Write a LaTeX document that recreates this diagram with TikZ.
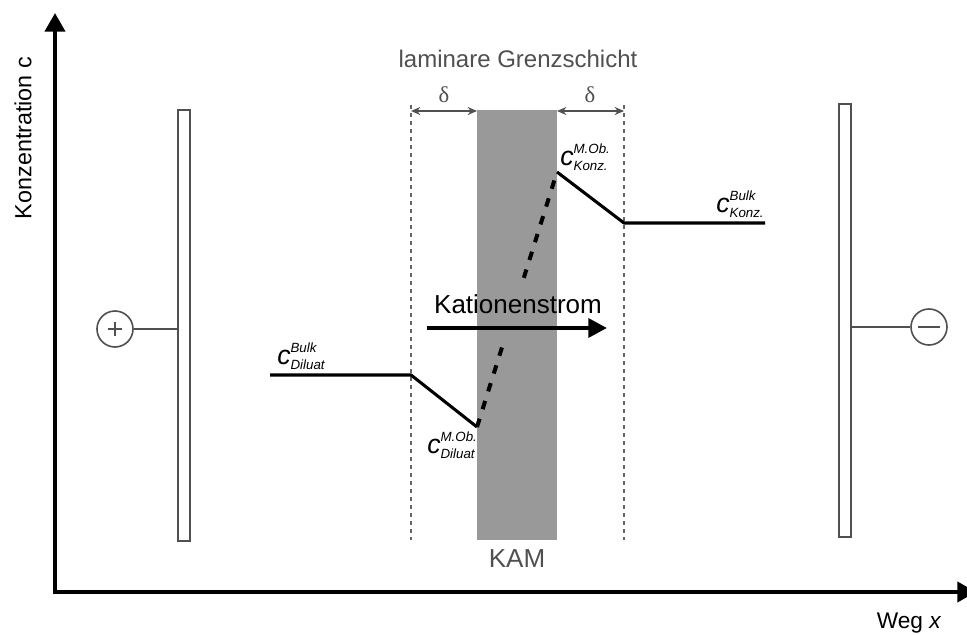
\documentclass[tikz,border=0pt]{standalone}
\usepackage{fontspec}
\setmainfont{Liberation Sans}
\newfontfamily\serifgreek{Liberation Serif}
\usetikzlibrary{arrows.meta,calc}
\definecolor{membrane}{HTML}{999999}
\definecolor{darkline}{HTML}{505050}
\definecolor{guide}{HTML}{666666}
% concentration symbol with stacked super- and subscript
\newcommand{\conc}[2]{\itshape{\fontsize{20}{20}\selectfont c}%
  \rlap{\raisebox{8.6pt}{\fontsize{10}{10}\selectfont #1}}%
  \raisebox{-3.75pt}{\fontsize{10}{10}\selectfont #2}}
\tikzset{
  axis/.style={line width=3pt, -{Triangle[length=14pt,width=15pt]}},
  electrode/.style={draw=darkline, line width=1.5pt, fill=white},
  pole/.style={circle, draw=darkline, line width=1.2pt, minimum size=27pt, inner sep=0pt},
  wire/.style={draw=darkline, line width=1.2pt},
  guideline/.style={draw=guide, line width=1.5pt, dash pattern=on 3pt off 3pt},
  gap/.style={draw=darkline, line width=1.5pt, {Stealth[length=7pt,width=6pt]}-{Stealth[length=7pt,width=6pt]}},
  profile/.style={line width=2.3pt, line join=round},
  profiledash/.style={line width=3pt, dash pattern=on 6.5pt off 7.5pt},
  flow/.style={line width=3.2pt, -{Triangle[length=14pt,width=14pt]}},
  lbl/.style={inner sep=0pt, anchor=base},
  clbl/.style={inner sep=0pt, anchor=base west},
}
\begin{document}
\begin{tikzpicture}[x=0.75pt, y=-0.75pt]
\useasboundingbox (0,0) rectangle (967,635);

% axes
\coordinate (origin) at (55,592);
\coordinate (ytip) at (55,13);
\coordinate (xtip) at (976,592);
\draw[axis] (55,594) -- (ytip);
\draw[axis] (53,592) -- (xtip);
\node[rotate=90, inner sep=0pt, font=\fontsize{17.5}{17.5}\selectfont] (ylabel) at (23,138) {Konzentration c};
\node[lbl, font=\fontsize{17}{17}\selectfont] (xlabel) at (909,628) {Weg \textit{x}};

% membrane and boundary layers
\fill[membrane] (477,110) rectangle (557,540);
\node[lbl, text=darkline, font=\fontsize{19.5}{19.5}\selectfont] (kam) at (517,567) {KAM};
\coordinate (dlt) at (411,105);
\coordinate (dlb) at (411,540);
\coordinate (drt) at (624,105);
\coordinate (drb) at (624,540);
\draw[guideline] (dlt) -- (dlb);
\draw[guideline] (drt) -- (drb);
\coordinate (gl) at (411,111);
\coordinate (ml) at (477,111);
\coordinate (mr) at (557,111);
\coordinate (gr) at (624,111);
\draw[gap] (gl) -- (ml);
\draw[gap] (mr) -- (gr);
\node[lbl, text=darkline, font=\serifgreek\fontsize{17}{17}\selectfont] (deltaL) at (444,103) {δ};
\node[lbl, text=darkline, font=\serifgreek\fontsize{17}{17}\selectfont] (deltaR) at (590,103) {δ};
\node[lbl, text=darkline, font=\fontsize{18}{18}\selectfont] (layer) at (518,68) {laminare Grenzschicht};

% electrodes
\draw[electrode] (178,110) rectangle (190,541);
\draw[electrode] (839,104) rectangle (851,537);
\node[pole] (anode) at (115,329) {};
\node[pole] (cathode) at (929,327) {};
\draw[darkline, line width=1.2pt] ($(anode)+(-7,0)$) -- ($(anode)+(7,0)$);
\draw[darkline, line width=1.2pt] ($(anode)+(0,-7)$) -- ($(anode)+(0,7)$);
\draw[darkline, line width=1.2pt] ($(cathode)+(-11,0)$) -- ($(cathode)+(11,0)$);
\coordinate (anodeplate) at (178,329);
\coordinate (cathodeplate) at (851,327);
\draw[wire] (anode) -- (anodeplate);
\draw[wire] (cathodeplate) -- (cathode);

% concentration profile
\coordinate (d0) at (270,375);
\coordinate (d1) at (411,375);
\coordinate (d2) at (477,427);
\coordinate (k2) at (557,172);
\coordinate (k1) at (624,223);
\coordinate (k0) at (765,223);
\draw[profile] (d0) -- (d1) -- (d2);
% inside the membrane: dashed, interrupted where the flux label sits
\coordinate (mlow) at ($(d2)!0.33!(k2)$);
\coordinate (mhigh) at ($(d2)!0.585!(k2)$);
\draw[profiledash] (d2) -- (mlow);
\draw[profiledash] (mhigh) -- (k2);
\draw[profile] (k2) -- (k1) -- (k0);

\node[clbl] (cbd) at (277,364) {\conc{Bulk}{Diluat}};
\node[clbl] (cmd) at (427,453) {\conc{M.Ob.}{Diluat}};
\node[clbl] (cmk) at (560,165) {\conc{M.Ob.}{Konz.}};
\node[clbl] (cbk) at (716,212) {\conc{Bulk}{Konz.}};

% cation flux
\coordinate (fs) at (427,328);
\coordinate (fe) at (607,328);
\draw[flow] (fs) -- (fe);
\node[lbl, font=\fontsize{19.5}{19.5}\selectfont] (flux) at (518,313) {Kationenstrom};
\end{tikzpicture}
\end{document}
